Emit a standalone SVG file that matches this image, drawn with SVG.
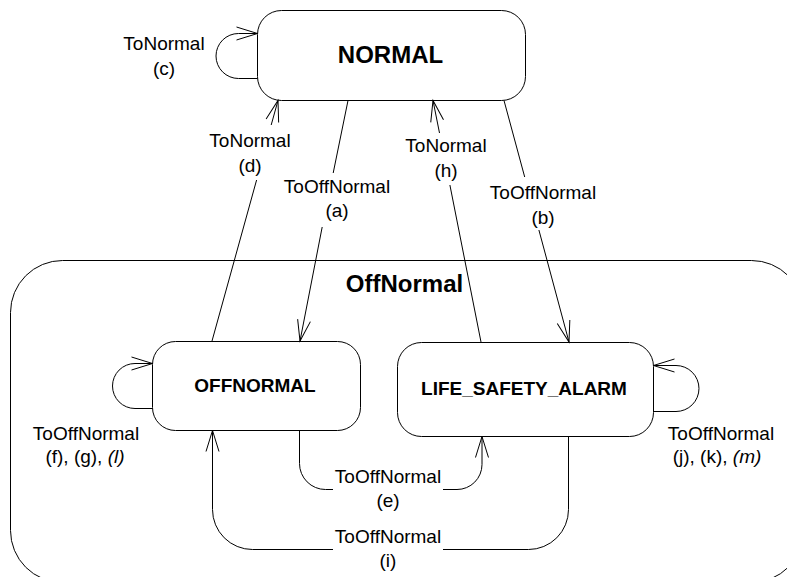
<svg xmlns="http://www.w3.org/2000/svg" width="787" height="577" viewBox="0 0 787 577">
<style>
.box{fill:#fff;stroke:#000;stroke-width:1}
.cont{fill:none;stroke:#000;stroke-width:1}
.edge{fill:none;stroke:#000;stroke-width:1}
.arr{marker-end:url(#arrow)}
.lbl{font-family:"Liberation Sans",Arial,sans-serif;font-size:19px;fill:#000;text-anchor:middle}
.title{font-family:"Liberation Sans",Arial,sans-serif;font-weight:bold;fill:#000;text-anchor:middle}
.it{font-style:italic}
</style>
<defs>
<marker id="arrow" markerUnits="userSpaceOnUse" orient="auto" refX="0" refY="0" markerWidth="30" markerHeight="20" viewBox="-25 -10 30 20" overflow="visible">
<path d="M-21,-6.5 L0,0 L-21,6.5" fill="none" stroke="#000" stroke-width="1"/>
</marker>
</defs>
<rect width="787" height="577" fill="#fff"/>
<g id="OffNormalGroup">
<rect class="cont" x="10.5" y="260.5" width="793" height="322" rx="52" ry="52"/>
<text class="title" x="404.5" y="292" font-size="24">OffNormal</text>
</g>
<g id="NORMAL">
<rect class="box" x="257.5" y="10.5" width="268" height="90" rx="24" ry="24"/>
<text class="title" x="390.5" y="63" font-size="24">NORMAL</text>
</g>
<g id="OFFNORMAL">
<rect class="box" x="152.5" y="341.5" width="208" height="89" rx="23" ry="23"/>
<text class="title" x="255" y="392" font-size="19">OFFNORMAL</text>
</g>
<g id="LIFE_SAFETY_ALARM">
<rect class="box" x="397.5" y="342.5" width="256" height="94" rx="24" ry="24"/>
<text class="title" x="524" y="395" font-size="19">LIFE_SAFETY_ALARM</text>
</g>
<g id="connectors">
<path class="edge arr" d="M257.5,78.5 H238.5 A22.5,22.5 0 0 1 238.5,33.5 H257.5"/>
<path class="edge" d="M212,341 L256.6,180"/>
<path class="edge arr" d="M271.2,125 L278,100.5"/>
<path class="edge" d="M348,100.5 L333.2,173"/>
<path class="edge arr" d="M322.2,227 L300,341"/>
<path class="edge" d="M481,342 L449.9,185"/>
<path class="edge arr" d="M439.5,133 L433,100.5"/>
<path class="edge" d="M504,100.5 L524.7,177"/>
<path class="edge arr" d="M538.9,230 L569,342"/>
<path class="edge arr" d="M152.5,408.5 H135 A22.5,22.5 0 0 1 135,363.5 H152.5"/>
<path class="edge arr" d="M653.5,411.5 H676 A23,23 0 0 0 676,365.5 H653.5"/>
<path class="edge" d="M299.5,430.5 V463.5 A26,26 0 0 0 325.5,489.5 H333"/>
<path class="edge arr" d="M443,489.5 H457 A25,25 0 0 0 482,464.5 V436.5"/>
<path class="edge" d="M568.5,436.5 V509.5 A40,40 0 0 1 528.5,549.5 H443"/>
<path class="edge arr" d="M333,549.5 H252.5 A40,40 0 0 1 212.5,509.5 V430.5"/>
</g>
<g id="labels">
<text class="lbl" x="164" y="50">ToNormal</text>
<text class="lbl" x="164" y="75">(c)</text>
<text class="lbl" x="250" y="147">ToNormal</text>
<text class="lbl" x="250" y="172">(d)</text>
<text class="lbl" x="337" y="193">ToOffNormal</text>
<text class="lbl" x="337" y="217">(a)</text>
<text class="lbl" x="446" y="152">ToNormal</text>
<text class="lbl" x="446" y="177">(h)</text>
<text class="lbl" x="543" y="199">ToOffNormal</text>
<text class="lbl" x="543" y="224">(b)</text>
<text class="lbl" x="86" y="440">ToOffNormal</text>
<text class="lbl" x="85" y="463">(f), (g), <tspan class="it">(l)</tspan></text>
<text class="lbl" x="721" y="440">ToOffNormal</text>
<text class="lbl" x="717" y="463">(j), (k), <tspan class="it">(m)</tspan></text>
<text class="lbl" x="388" y="483">ToOffNormal</text>
<text class="lbl" x="388" y="507">(e)</text>
<text class="lbl" x="388" y="543">ToOffNormal</text>
<text class="lbl" x="388" y="567">(i)</text>
</g>
</svg>
